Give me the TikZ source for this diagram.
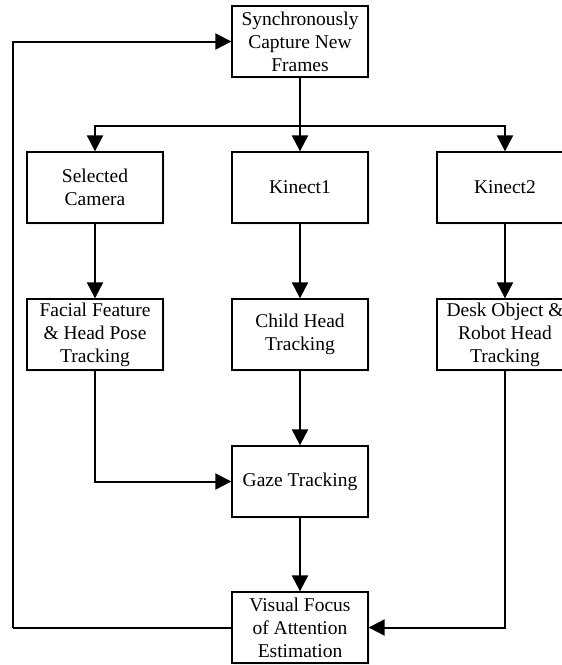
\documentclass[tikz,border=0pt]{standalone}
\usepackage{fontspec}
\setmainfont{Liberation Serif}
\usetikzlibrary{arrows.meta,shadows}
\begin{document}
\begin{tikzpicture}[x=1pt,y=-1pt,
  stage/.style={draw=black, line width=1.3pt, fill=white,
    minimum width=136pt, minimum height=71pt, inner sep=2pt,
    align=center, font=\fontsize{19.5}{23}\selectfont,
    drop shadow={opacity=0.12, shadow xshift=2pt, shadow yshift=-2pt}},
  conn/.style={draw=black, line width=2pt,
    -{Triangle[length=16pt,width=16pt]}},
  link/.style={draw=black, line width=2pt}]
  \useasboundingbox (0,0) rectangle (562,665);
  \begin{scope}
  \clip (0,0) rectangle (562,665);

  % processing stages
  \node[stage] (cap)   at (300,41.5)  {Synchronously\\Capture New\\Frames};
  \node[stage] (sel)   at (95,187.5)  {Selected\\Camera};
  \node[stage] (kone)  at (300,187.5) {Kinect1};
  \node[stage] (ktwo)  at (505,187.5) {Kinect2};
  \node[stage] (face)  at (95,334.5)  {Facial Feature\\\& Head Pose\\Tracking};
  \node[stage] (child) at (300,334.5) {Child Head\\Tracking};
  \node[stage] (desk)  at (505,334.5) {Desk Object \&\\Robot Head\\Tracking};
  \node[stage] (gaze)  at (300,481.5) {Gaze Tracking};
  \node[stage] (vfoa)  at (300,627.5) {Visual Focus\\of Attention\\Estimation};

  % routing points
  \coordinate (split) at (300,126);
  \coordinate (loop)  at (13,627.5);

  % fan-out to the three sensors
  \draw[link] (cap.south) -- (split);
  \draw[conn] (split) -- (kone.north);
  \draw[conn] (split) -| (sel.north);
  \draw[conn] (split) -| (ktwo.north);

  % tracking chains
  \draw[conn] (sel.south) -- (face.north);
  \draw[conn] (kone.south) -- (child.north);
  \draw[conn] (ktwo.south) -- (desk.north);
  \draw[conn] (child.south) -- (gaze.north);
  \draw[conn] (face.south) |- (gaze.west);
  \draw[conn] (gaze.south) -- (vfoa.north);
  \draw[conn] (desk.south) |- (vfoa.east);

  % feedback loop to the next frame
  \draw[link] (vfoa.west) -- (loop);
  \draw[conn] (loop) |- (cap.west);
  \end{scope}
\end{tikzpicture}
\end{document}
